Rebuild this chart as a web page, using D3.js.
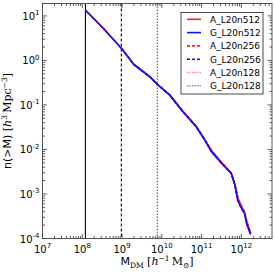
<!DOCTYPE html>
<html><head><meta charset="utf-8">
<script src="https://cdn.jsdelivr.net/npm/d3@7"></script>
<style>body{margin:0;background:#fff}svg{display:block}</style>
</head><body><svg id="c" width="274" height="273"></svg>
<script>
// ---- data ----
const massG512 = [1.2e8, 3.2e8, 9.7e8, 2.0e9, 4.97e9, 8.0e9, 1.58e10, 3.4e10, 7.4e10, 1.2e11, 1.78e11, 3.16e11, 5.6e11, 6.9e11, 8.1e11, 1.0e12, 1.2e12, 1.35e12, 1.7e12];
const nG512    = [13.4, 5.5, 1.85, 0.8, 0.43, 0.28, 0.166, 0.070, 0.032, 0.0162, 0.0089, 0.0049, 0.00288, 0.00158, 0.00072, 0.00048, 0.00037, 0.00022, 0.000125];
const massA512 = [1.2e8, 3.2e8, 9.7e8, 2.0e9, 4.97e9, 8.0e9, 1.58e10, 3.4e10, 7.4e10, 1.2e11, 1.8e11, 3.2e11, 5.5e11, 6.8e11, 8.3e11, 1.02e12, 1.2e12, 1.37e12, 1.72e12];
const nA512    = [13.6, 5.6, 1.87, 0.81, 0.44, 0.285, 0.17, 0.072, 0.033, 0.0168, 0.0093, 0.0051, 0.003, 0.00168, 0.00078, 0.00052, 0.0004, 0.00024, 0.00013];
const massG256 = massG512.slice(2), nG256 = nG512.slice(2);
const massA256 = massA512.slice(2), nA256 = nA512.slice(2);
const massG128 = massG512.slice(5), nG128 = nG512.slice(5);
const massA128 = massA512.slice(5), nA128 = nA512.slice(5);
const seriesNames = ["A_L20n512","G_L20n512","A_L20n256","G_L20n256","A_L20n128","G_L20n128"];
const thresholds = [1.2e8, 9.6e8, 7.7e9];
const xTickExp = [7,8,9,10,11,12];
const yTickExp = [-4,-3,-2,-1,0,1];

// ---- layout ----
const L=42.5, R=272, T=3.5, B=238.5;
const svg = d3.select("#c");
const x = d3.scaleLog().domain([1e7, 5.9e12]).range([L,R]);
const y = d3.scaleLog().domain([1e-4, 19]).range([B,T]);
const font = "DejaVu Sans, sans-serif";

const series = [
 {name:seriesNames[0], m:massA512, n:nA512, color:"#ff2020", dash:null, w:1.6},
 {name:seriesNames[1], m:massG512, n:nG512, color:"#1010ff", dash:null, w:1.6},
 {name:seriesNames[2], m:massA256, n:nA256, color:"#ff2020", dash:"3,2", w:1.6},
 {name:seriesNames[3], m:massG256, n:nG256, color:"#1010ff", dash:"3,2", w:1.6},
 {name:seriesNames[4], m:massA128, n:nA128, color:"#ff8a8a", dash:"1.5,1", w:1.4},
 {name:seriesNames[5], m:massG128, n:nG128, color:"#8a8aff", dash:"1.5,1", w:1.4},
];

const plot = svg.append("g");
svg.append("defs").append("clipPath").attr("id","clip").append("rect")
  .attr("x",L).attr("y",T).attr("width",R-L).attr("height",B-T);
plot.attr("clip-path","url(#clip)");

// vertical threshold lines
const vstyles=[{d:null,c:"#000"},{d:"3,2",c:"#000"},{d:"1.5,1.5",c:"#555"}];
thresholds.forEach((t,i)=>{
  plot.append("line").attr("x1",x(t)).attr("x2",x(t)).attr("y1",T).attr("y2",B)
   .attr("stroke",vstyles[i].c).attr("stroke-width",1.1).attr("stroke-dasharray",vstyles[i].d);
});

const line = d3.line().x(d=>x(d[0])).y(d=>y(d[1]));
// faint low-res first, full-res blue on top
[4,5,2,0,3,1].forEach(i=>{
  const s=series[i];
  plot.append("path").datum(s.m.map((m,j)=>[m,s.n[j]])).attr("d",line)
   .attr("fill","none").attr("stroke",s.color).attr("stroke-width",s.w)
   .attr("stroke-dasharray",s.dash);
});

// ticks
const ax = svg.append("g").attr("stroke","#333").attr("stroke-width",0.8);
function minors(e0,e1){const a=[];for(let e=e0;e<=e1;e++)for(let k=1;k<10;k++)a.push(k*Math.pow(10,e));return a;}
minors(7,12).forEach(v=>{
  if(v<1e7||v>5.9e12) return;
  const major = Math.abs(Math.log10(v)-Math.round(Math.log10(v)))<1e-9;
  const len = major?4.5:2.5, px=x(v);
  ax.append("line").attr("x1",px).attr("x2",px).attr("y1",B).attr("y2",B-len);
  ax.append("line").attr("x1",px).attr("x2",px).attr("y1",T).attr("y2",T+len);
});
minors(-4,1).forEach(v=>{
  if(v<1e-4||v>19) return;
  const major = Math.abs(Math.log10(v)-Math.round(Math.log10(v)))<1e-9;
  const len = major?4.5:2.5, py=y(v);
  ax.append("line").attr("x1",L).attr("x2",L+len).attr("y1",py).attr("y2",py);
  ax.append("line").attr("x1",R).attr("x2",R-len).attr("y1",py).attr("y2",py);
});
svg.append("rect").attr("x",L).attr("y",T).attr("width",R-L).attr("height",B-T)
  .attr("fill","none").attr("stroke","#444").attr("stroke-width",0.9);

// tick labels
xTickExp.forEach(e=>{
  const t=svg.append("text").attr("x",x(Math.pow(10,e))).attr("y",B+14).attr("text-anchor","middle")
   .attr("font-family",font).attr("font-size",10).attr("fill","#000");
  t.append("tspan").text("10");
  t.append("tspan").attr("dy",-4.5).attr("font-size",7).text(e);
});
yTickExp.forEach(e=>{
  const t=svg.append("text").attr("x",L-3).attr("y",y(Math.pow(10,e))+4).attr("text-anchor","end")
   .attr("font-family",font).attr("font-size",10).attr("fill","#000");
  t.append("tspan").text("10");
  t.append("tspan").attr("dy",-4.5).attr("font-size",7).text(e);
});

// axis labels
const serif="DejaVu Serif, serif";
const xl=svg.append("text").attr("x",157).attr("y",265).attr("text-anchor","middle")
  .attr("font-family",font).attr("font-size",11).attr("fill","#000");
xl.append("tspan").text("M");
xl.append("tspan").attr("dy",2.5).attr("font-size",7.5).attr("font-family",serif).text("DM");
xl.append("tspan").attr("dy",-2.5).attr("font-family",serif).text(" [");
xl.append("tspan").attr("font-family",serif).attr("font-style","italic").text("h");
xl.append("tspan").attr("dy",-4.5).attr("font-size",7.5).attr("font-family",serif).text("−1");
xl.append("tspan").attr("dy",4.5).attr("font-family",serif).text("\u2009M");
xl.append("tspan").attr("dy",2.5).attr("font-size",7.5).attr("font-family",serif).text("⊙");
xl.append("tspan").attr("dy",-2.5).attr("font-family",serif).text("]");

const yl=svg.append("text").attr("transform","translate(11,121) rotate(-90)").attr("text-anchor","middle")
  .attr("font-family",font).attr("font-size",11).attr("fill","#000");
yl.append("tspan").text("n(>M) ");
yl.append("tspan").attr("font-family",serif).text("[");
yl.append("tspan").attr("font-family",serif).attr("font-style","italic").text("h");
yl.append("tspan").attr("dy",-4.5).attr("font-size",7.5).attr("font-family",serif).text("3");
yl.append("tspan").attr("dy",4.5).attr("font-family",serif).text("\u2009Mpc");
yl.append("tspan").attr("dy",-4.5).attr("font-size",7.5).attr("font-family",serif).text("−3");
yl.append("tspan").attr("dy",4.5).attr("font-family",serif).text("]");

// legend
const lg=svg.append("g");
lg.append("rect").attr("x",181).attr("y",12.5).attr("width",82).attr("height",81.5)
  .attr("fill","#fff").attr("stroke","#333").attr("stroke-width",0.9);
series.forEach((s,i)=>{
  const yy=19.3+i*13.3;
  lg.append("line").attr("x1",187).attr("x2",201).attr("y1",yy).attr("y2",yy)
   .attr("stroke",s.color).attr("stroke-width",s.w).attr("stroke-dasharray",s.dash);
  lg.append("text").attr("x",210).attr("y",yy+3.3).attr("font-family",font).attr("font-size",9)
   .attr("fill","#000").text(s.name);
});
</script></body></html>
